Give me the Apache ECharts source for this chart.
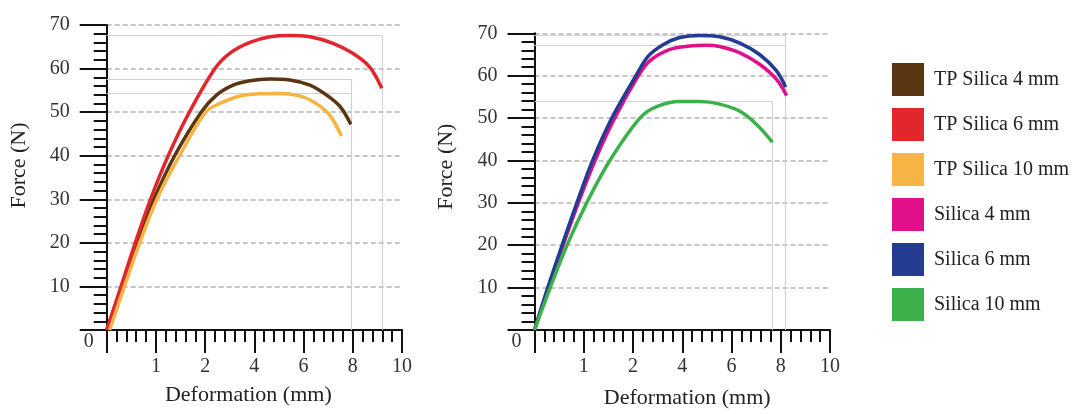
<!DOCTYPE html>
<html>
<head>
<meta charset="utf-8">
<script src="https://cdn.jsdelivr.net/npm/echarts@6/dist/echarts.min.js"></script>
<style>
html,body{margin:0;padding:0;background:#fff;}
#chart{width:1075px;height:414px;}
</style>
</head>
<body>
<div id="chart"></div>
<script>
// X positions are in axis-tick units (tick k carries label XTICK_LABELS[k])
const XTICK_LABELS = ['0', '1', '2', '4', '6', '8', '10'];
const X_TITLE = 'Deformation (mm)';
const Y_TITLE = 'Force (N)';

const TP4_X  = [0, 0.31, 0.62, 0.96, 1.38, 1.92, 2.23, 2.57, 2.91, 3.31, 3.72, 4.13, 4.47, 4.74, 4.96];
const TP4_Y  = [0, 10, 20, 30, 40, 50, 53.9, 56.2, 57.2, 57.6, 57.4, 56.2, 53.9, 51.3, 47.2];

const TP6_X  = [0, 0.29, 0.58, 0.89, 1.25, 1.68, 2.20, 2.50, 2.91, 3.32, 3.72, 4.13, 4.60, 5.00, 5.34, 5.59];
const TP6_Y  = [0, 10, 20, 30, 40, 50, 60, 63.5, 66.0, 67.3, 67.6, 67.3, 65.8, 63.5, 60.4, 55.5];

const TP10_X = [0.06, 0.36, 0.67, 1.02, 1.48, 2.01, 2.30, 2.71, 3.11, 3.50, 3.90, 4.20, 4.47, 4.62, 4.77];
const TP10_Y = [0, 10, 20, 30, 40, 50, 52.0, 53.7, 54.2, 54.3, 53.8, 52.4, 50.1, 47.8, 44.5];

const S4_X   = [0, 0.28, 0.58, 0.89, 1.23, 1.63, 2.11, 2.34, 2.75, 3.15, 3.50, 3.76, 4.17, 4.57, 4.91, 5.12];
const S4_Y   = [0, 10, 20, 30, 40, 50, 60, 63.5, 66.2, 67.0, 67.2, 66.9, 65.4, 62.7, 59.2, 55.3];

const S6_X   = [0, 0.27, 0.56, 0.86, 1.18, 1.57, 2.06, 2.31, 2.61, 2.95, 3.36, 3.76, 4.17, 4.57, 4.91, 5.10];
const S6_Y   = [0, 10, 20, 30, 40, 50, 60, 64.6, 67.3, 69.0, 69.5, 69.2, 67.7, 65.0, 61.2, 57.3];

const S10_X  = [0, 0.32, 0.66, 1.06, 1.53, 2.14, 2.48, 2.95, 3.36, 3.76, 4.17, 4.51, 4.83];
const S10_Y  = [0, 10, 20, 30, 40, 50, 52.7, 53.9, 53.9, 53.3, 51.6, 48.5, 44.3];

const NAMES  = ['TP Silica 4 mm', 'TP Silica 6 mm', 'TP Silica 10 mm', 'Silica 4 mm', 'Silica 6 mm', 'Silica 10 mm'];
const COLORS = ['#5a3512', '#e1262e', '#f6b444', '#e0108a', '#243b92', '#3cb04a'];

const FONT = '"Liberation Serif", "Times New Roman", serif';

function pairs(xs, ys) { return xs.map((x, i) => [x, ys[i]]); }
function refLines(xs, ys, xEnd) {
  const peak = Math.max.apply(null, ys);
  const end = xEnd !== undefined ? xEnd : xs[xs.length - 1];
  return [
    [{ coord: [0, peak] }, { coord: [end, peak] }],
    [{ coord: [end, peak] }, { coord: [end, 0] }]
  ];
}

function makeSeries(idx, xs, ys, gridIdx, refs) {
  return {
    name: NAMES[idx],
    type: 'line',
    xAxisIndex: gridIdx,
    yAxisIndex: gridIdx,
    data: pairs(xs, ys),
    smooth: 0.35,
    showSymbol: false,
    symbol: 'none',
    lineStyle: { color: COLORS[idx], width: 3.5 },
    itemStyle: { color: COLORS[idx] },
    z: 5 + idx,
    markLine: {
      silent: true,
      symbol: 'none',
      label: { show: false },
      lineStyle: { color: '#cfd0d6', width: 1, type: 'solid' },
      emphasis: { disabled: true },
      data: refs,
      z: 1
    }
  };
}

function xAxisCfg(gridIdx, nameShift) {
  return {
    type: 'value', gridIndex: gridIdx, min: 0, max: 6, interval: 1,
    name: X_TITLE, nameLocation: 'middle', nameGap: gridIdx === 0 ? 54 : 57,
    nameTextStyle: { fontFamily: FONT, fontSize: 22, color: '#222',
      padding: nameShift },
    axisLine: { show: true, onZero: false, lineStyle: { color: '#111', width: 2 } },
    axisTick: { show: true, length: 23, lineStyle: { color: '#111', width: 2 } },
    minorTick: { show: true, splitNumber: 5, length: 12, lineStyle: { color: '#111', width: 2 } },
    splitLine: { show: false },
    axisLabel: {
      margin: 37, fontFamily: FONT, fontSize: 20, color: '#333', verticalAlign: 'middle',
      formatter: function (v) {
        const i = Math.round(v);
        if (i === 0) return '{z|' + XTICK_LABELS[0] + '}';
        return XTICK_LABELS[i];
      },
      rich: { z: { fontFamily: FONT, fontSize: 20, color: '#333', padding: [0, 36, 50, 0] } }
    }
  };
}

function yAxisCfg(gridIdx, namePad) {
  return {
    type: 'value', gridIndex: gridIdx, min: 0, max: 70, interval: 10,
    name: Y_TITLE, nameLocation: 'middle', nameGap: gridIdx === 0 ? 76 : 77, nameRotate: 90,
    nameTextStyle: { fontFamily: FONT, fontSize: 22, color: '#222', padding: namePad },
    axisLine: { show: true, onZero: false, lineStyle: { color: '#111', width: 2 } },
    axisTick: { show: true, length: 27, lineStyle: { color: '#111', width: 2 } },
    minorTick: { show: true, splitNumber: 5, length: 13, lineStyle: { color: '#111', width: 2 } },
    splitLine: { show: true, lineStyle: { color: '#c6c6c6', width: 2, type: [5, 3] } },
    axisLabel: {
      margin: 37, fontFamily: FONT, fontSize: 20, color: '#333',
      padding: [0, 0, 10, 0],
      formatter: function (v) { return v === 0 ? '' : String(v); }
    }
  };
}

const chart = echarts.init(document.getElementById('chart'), null, { renderer: 'canvas' });
chart.setOption({
  animation: false,
  backgroundColor: '#ffffff',
  grid: [
    { left: 106.7, top: 25, width: 295.3, height: 305 },
    { left: 534.5, top: 33.3, width: 295.5, height: 304 }
  ],
  xAxis: [xAxisCfg(0, [0, 12, 0, 0]), xAxisCfg(1, [0, 0, 0, 10])],
  yAxis: [yAxisCfg(0, [0, 0, 0, 24]), yAxisCfg(1, [0, 0, 0, 30])],
  legend: {
    orient: 'vertical', left: 887, top: 58,
    itemWidth: 32, itemHeight: 33, itemGap: 12,
    icon: 'rect', selectedMode: false,
    data: NAMES,
    textStyle: { fontFamily: FONT, fontSize: 20, color: '#222', padding: [0, 0, 0, 5] }
  },
  series: [
    makeSeries(0, TP4_X, TP4_Y, 0, refLines(TP4_X, TP4_Y)),
    makeSeries(1, TP6_X, TP6_Y, 0, refLines(TP6_X, TP6_Y)),
    makeSeries(2, TP10_X, TP10_Y, 0, refLines(TP10_X, TP10_Y, TP4_X[TP4_X.length - 1])),
    makeSeries(3, S4_X, S4_Y, 1, refLines(S4_X, S4_Y, S6_X[S6_X.length - 1])),
    makeSeries(4, S6_X, S6_Y, 1, refLines(S6_X, S6_Y)),
    makeSeries(5, S10_X, S10_Y, 1, refLines(S10_X, S10_Y))
  ]
});
</script>
</body>
</html>
